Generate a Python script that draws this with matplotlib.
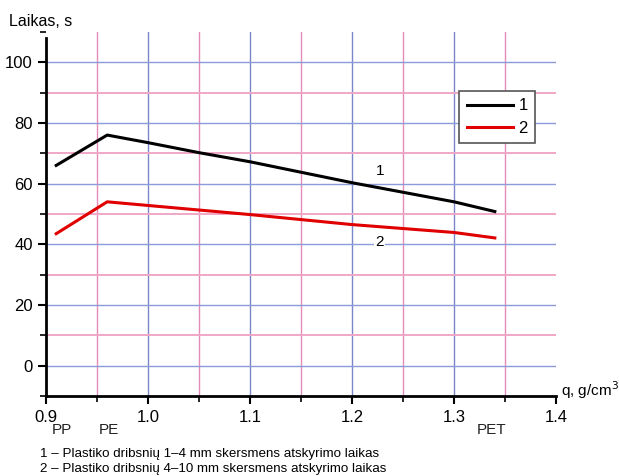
import numpy as np
import matplotlib
matplotlib.use("Agg")
from matplotlib import pyplot as plt
from matplotlib.ticker import MultipleLocator

plt.rcParams["font.family"] = ["Liberation Sans", "DejaVu Sans"]

# Duomenys: tankis (g/cm3) ir atskyrimo laikas (s)
tankis_1 = [0.91, 0.96, 1.00, 1.05, 1.10, 1.20, 1.30, 1.34]
laikas_1 = [66.0, 76.0, 73.5, 70.2, 67.2, 60.3, 54.0, 50.8]
tankis_2 = [0.91, 0.96, 1.00, 1.10, 1.20, 1.30, 1.34]
laikas_2 = [43.5, 54.0, 52.8, 49.8, 46.5, 43.9, 42.1]
plastikai = ["PP", "PE", "PET"]
plastiku_tankis = [0.916, 0.962, 1.337]
x_zymes = [0.9, 1.0, 1.1, 1.2, 1.3, 1.4]
y_zymes = [0, 20, 40, 60, 80, 100]

fig = plt.figure(figsize=(6.19, 4.76), dpi=100)
ax = fig.add_axes([0.0743, 0.168, 0.824, 0.765])

# Tinklelis: melynos ir rozines linijos
for x in x_zymes[1:-1]:
    ax.axvline(x, color="#7b86c9", lw=1.0, zorder=1)
for x in np.arange(0.95, 1.4, 0.1):
    ax.axvline(x, color="#e58bb8", lw=1.0, zorder=1)
for y in y_zymes:
    ax.axhline(y, color="#8b9cd8", lw=1.0, zorder=1)
for y in range(10, 110, 20):
    ax.axhline(y, color="#f0a8c6", lw=1.4, zorder=1)

ax.plot(tankis_1, laikas_1, color="black", lw=2.2, label="1", zorder=3)
ax.plot(tankis_2, laikas_2, color="#e00000", lw=2.2, label="2", zorder=3)

ax.text(1.228, 64, "1", fontsize=11, ha="center", va="center", zorder=4)
ax.text(1.227, 40.6, "2", fontsize=11, ha="center", va="center", zorder=4,
        bbox=dict(facecolor="white", edgecolor="none", pad=1))

ax.set_xlim(0.9, 1.4)
ax.set_ylim(-10, 110)
ax.set_xticks(x_zymes)
ax.set_xticklabels([f"{v:.1f}" for v in x_zymes])
ax.set_yticks(y_zymes)
ax.xaxis.set_minor_locator(MultipleLocator(0.05))
ax.yaxis.set_minor_locator(MultipleLocator(10))
ax.tick_params(axis="both", which="major", labelsize=12, length=6, width=1.5, direction="out")
ax.tick_params(axis="both", which="minor", length=4, width=1.2, direction="out")
ax.tick_params(axis="x", pad=4)

for s in ["top", "right"]:
    ax.spines[s].set_visible(False)
for s in ["left", "bottom"]:
    ax.spines[s].set_linewidth(2)
ax.spines["left"].set_bounds(-10, 108)

for nm, x in zip(plastikai, plastiku_tankis):
    ax.text(x, -21.3, nm, fontsize=11, ha="center", va="center", color="#222222")

ax.text(1.405, -8, "q, g/cm$^3$", fontsize=11, ha="left", va="center")
fig.text(0.014, 0.955, "Laikas, s", fontsize=11.5, ha="left", va="center")

leg = ax.legend(loc="upper left", bbox_to_anchor=(0.81, 0.838), fontsize=12,
                handlelength=2.8, fancybox=False, framealpha=1,
                edgecolor="#555555", borderpad=0.45, labelspacing=0.45,
                handletextpad=0.3, borderaxespad=0)
leg.get_frame().set_linewidth(1.2)

fig.text(0.065, 0.047, "1 – Plastiko dribsnių 1–4 mm skersmens atskyrimo laikas", fontsize=9.6, va="center")
fig.text(0.065, 0.015, "2 – Plastiko dribsnių 4–10 mm skersmens atskyrimo laikas", fontsize=9.6, va="center")

fig.savefig("out.png", dpi=100)
plt.close()
